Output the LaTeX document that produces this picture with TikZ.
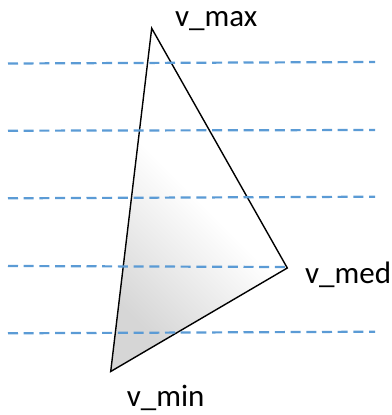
\documentclass[tikz,border=0pt]{standalone}
\usepackage{fontspec}
\setmainfont{Carlito}
\begin{document}
\begin{tikzpicture}[x=1pt,y=-1pt,
  guide/.style={draw={rgb,255:red,91;green,155;blue,213},line width=2.2pt,dash pattern=on 10pt off 5.7pt},
  lbl/.style={font=\fontsize{31}{36}\selectfont,inner sep=0pt,anchor=base west}]
\useasboundingbox (0,0) rectangle (391,415);
\coordinate (vmax) at (151.7,28.3);
\coordinate (vmed) at (287.3,268);
\coordinate (vmin) at (110.7,371.5);
\shadedraw[draw=black,line width=1.4pt,line join=miter,top color=white,bottom color=black!16,middle color=white,shading angle=-45]
  (vmax) -- (vmed) -- (vmin) -- cycle;
\coordinate (a1) at (8,63.5); \coordinate (b1) at (375,62);
\coordinate (a2) at (8,130.7); \coordinate (b2) at (375,130);
\coordinate (a3) at (8,198.3); \coordinate (b3) at (375,196.7);
\coordinate (a4) at (8,266); \coordinate (b4) at (287,267);
\coordinate (a5) at (8,333.3); \coordinate (b5) at (375,331.7);
\draw[guide] (a1) -- (b1);
\draw[guide] (a2) -- (b2);
\draw[guide] (a3) -- (b3);
\draw[guide] (a4) -- (b4);
\draw[guide] (a5) -- (b5);
\node[lbl] (tmax) at (175,26.7) {v\_max};
\node[lbl] (tmed) at (305,283.3) {v\_med};
\node[lbl] (tmin) at (126.7,406.7) {v\_min};
\end{tikzpicture}
\end{document}
